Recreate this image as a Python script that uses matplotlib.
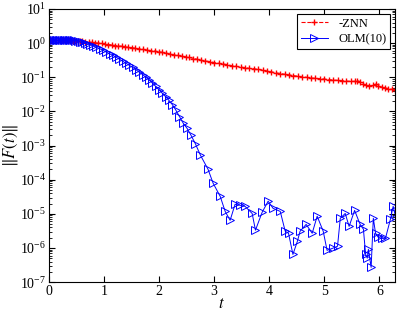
import matplotlib
matplotlib.use("Agg")
import matplotlib.pyplot as plt
import numpy as np

# ---- data (log10 of ||F(t)||) ----
red_t = [0.00,0.04,0.08,0.12,0.16,0.20,0.24,0.28,0.32,0.36,0.40,0.44,0.48,0.52,0.56,0.60,
         0.66,0.72,0.78,0.84,0.90,0.96,1.02,1.08,1.14,1.20,1.26,1.32,1.38,1.44,1.50,1.57,
         1.64,1.71,1.78,1.85,1.92,1.99,2.06,2.13,2.20,2.27,2.34,2.41,2.48,2.55,2.62,2.69,
         2.76,2.84,2.92,3.00,3.08,3.16,3.24,3.32,3.40,3.48,3.56,3.64,3.72,3.80,3.88,3.96,
         4.04,4.12,4.20,4.28,4.36,4.44,4.52,4.60,4.68,4.76,4.84,4.92,5.00,5.08,5.16,5.24,
         5.32,5.40,5.48,5.55,5.60,5.65,5.70,5.76,5.82,5.88,5.93,5.98,6.04,6.10,6.16,6.22,6.28]
red_log = [0.08,0.08,0.08,0.08,0.08,0.08,0.08,0.08,0.08,0.08,0.07,0.07,0.07,0.07,0.06,0.05,
           0.04,0.03,0.02,0.01,0.00,-0.01,-0.02,-0.04,-0.05,-0.07,-0.08,-0.09,-0.11,-0.12,-0.13,-0.15,
           -0.17,-0.18,-0.20,-0.22,-0.23,-0.25,-0.27,-0.29,-0.32,-0.34,-0.36,-0.38,-0.40,-0.42,-0.45,-0.47,
           -0.50,-0.52,-0.54,-0.57,-0.59,-0.61,-0.63,-0.66,-0.68,-0.70,-0.72,-0.74,-0.75,-0.77,-0.79,-0.82,
           -0.84,-0.87,-0.89,-0.91,-0.93,-0.95,-0.97,-0.99,-1.00,-1.02,-1.03,-1.04,-1.05,-1.07,-1.08,-1.09,
           -1.10,-1.11,-1.12,-1.12,-1.10,-1.13,-1.20,-1.22,-1.25,-1.24,-1.20,-1.25,-1.29,-1.31,-1.33,-1.35,-1.37]

blue_t = [0.00,0.03,0.06,0.09,0.12,0.15,0.18,0.21,0.24,0.27,0.30,0.33,0.36,0.39,0.42,0.45,
          0.48,0.52,0.56,0.60,0.65,0.70,0.75,0.80,0.86,0.92,0.98,1.04,1.10,1.16,1.22,1.28,
          1.34,1.40,1.46,1.52,1.58,1.64,1.70,1.76,1.82,1.88,1.94,2.00,2.06,2.12,2.18,2.24,
          2.30,2.37,2.44,2.51,2.58,2.66,2.75,2.89,2.98,3.11,3.20,3.29,3.38,3.47,3.56,3.69,
          3.75,3.87,3.98,4.07,4.20,4.29,4.35,4.43,4.51,4.56,4.67,4.78,4.87,4.98,5.05,5.15,
          5.24,5.29,5.38,5.45,5.55,5.65,5.71,5.75,5.78,5.80,5.85,5.89,5.93,5.98,6.05,6.11,
          6.20,6.25,6.28]
blue_log = [0.08,0.08,0.08,0.08,0.08,0.08,0.08,0.08,0.08,0.08,0.08,0.08,0.08,0.08,0.08,0.08,
            0.07,0.06,0.04,0.02,0.00,-0.02,-0.05,-0.08,-0.12,-0.16,-0.21,-0.26,-0.31,-0.36,-0.41,-0.47,
            -0.53,-0.59,-0.65,-0.71,-0.78,-0.85,-0.92,-1.00,-1.08,-1.17,-1.27,-1.37,-1.47,-1.57,-1.68,-1.80,
            -1.95,-2.15,-2.35,-2.50,-2.70,-2.95,-3.28,-3.70,-4.10,-4.49,-4.93,-5.19,-4.72,-4.75,-4.78,-4.99,
            -5.48,-4.96,-4.63,-4.84,-4.93,-5.51,-5.57,-6.19,-5.81,-5.51,-5.31,-5.57,-5.07,-5.51,-6.07,-6.01,
            -5.95,-5.13,-4.99,-5.37,-4.90,-5.31,-5.45,-6.19,-6.30,-6.04,-6.57,-5.13,-5.57,-5.69,-5.72,-5.72,
            -5.16,-4.78,-4.99]

red_vals = [10.0 ** v for v in red_log]
blue_vals = [10.0 ** v for v in blue_log]

labels = ["-ZNN", "OLM(10)"]

plt.rcParams["font.family"] = ["Liberation Serif", "DejaVu Serif"]
plt.rcParams["mathtext.fontset"] = "stix"

fig = plt.figure(figsize=(4.01, 3.11), dpi=100)
ax = fig.add_axes([0.122, 0.093, 0.863, 0.878])

ax.plot(red_t, red_vals, color="#ff0000", linestyle="--", linewidth=0.8,
        marker="+", markersize=5, markeredgewidth=1.0, label=labels[0])
ax.plot(blue_t, blue_vals, color="#0000ff", linestyle="-", linewidth=0.7,
        marker=">", markersize=6, markerfacecolor="none", markeredgewidth=0.7,
        label=labels[1])

ax.set_yscale("log")
ax.set_xlim(0, 2 * np.pi)
ax.set_ylim(1e-7, 1e1)
ax.set_xticks([0, 1, 2, 3, 4, 5, 6])
ax.set_yticks([10.0 ** k for k in range(-7, 2)])
ax.tick_params(which="both", direction="in", top=True, right=True, labelsize=10)
ax.tick_params(axis="y", pad=2)
ax.tick_params(axis="x", pad=2)
ax.tick_params(which="major", length=4)
ax.tick_params(which="minor", length=2)
for s in ax.spines.values():
    s.set_linewidth(0.8)

ax.set_xlabel(r"$t$", fontsize=12)
ax.xaxis.set_label_coords(0.5, -0.05)
ax.set_ylabel(r"$\|F(t)\|$", fontsize=12)
ax.yaxis.set_label_coords(-0.085, 0.5)

leg = ax.legend(loc="upper right", fontsize=9, frameon=True, fancybox=False,
                edgecolor="black", framealpha=1, borderpad=0.3, handlelength=2.2,
                labelspacing=0.3, borderaxespad=0.4)
leg.get_frame().set_linewidth(0.8)

fig.savefig("out.png", dpi=100)
